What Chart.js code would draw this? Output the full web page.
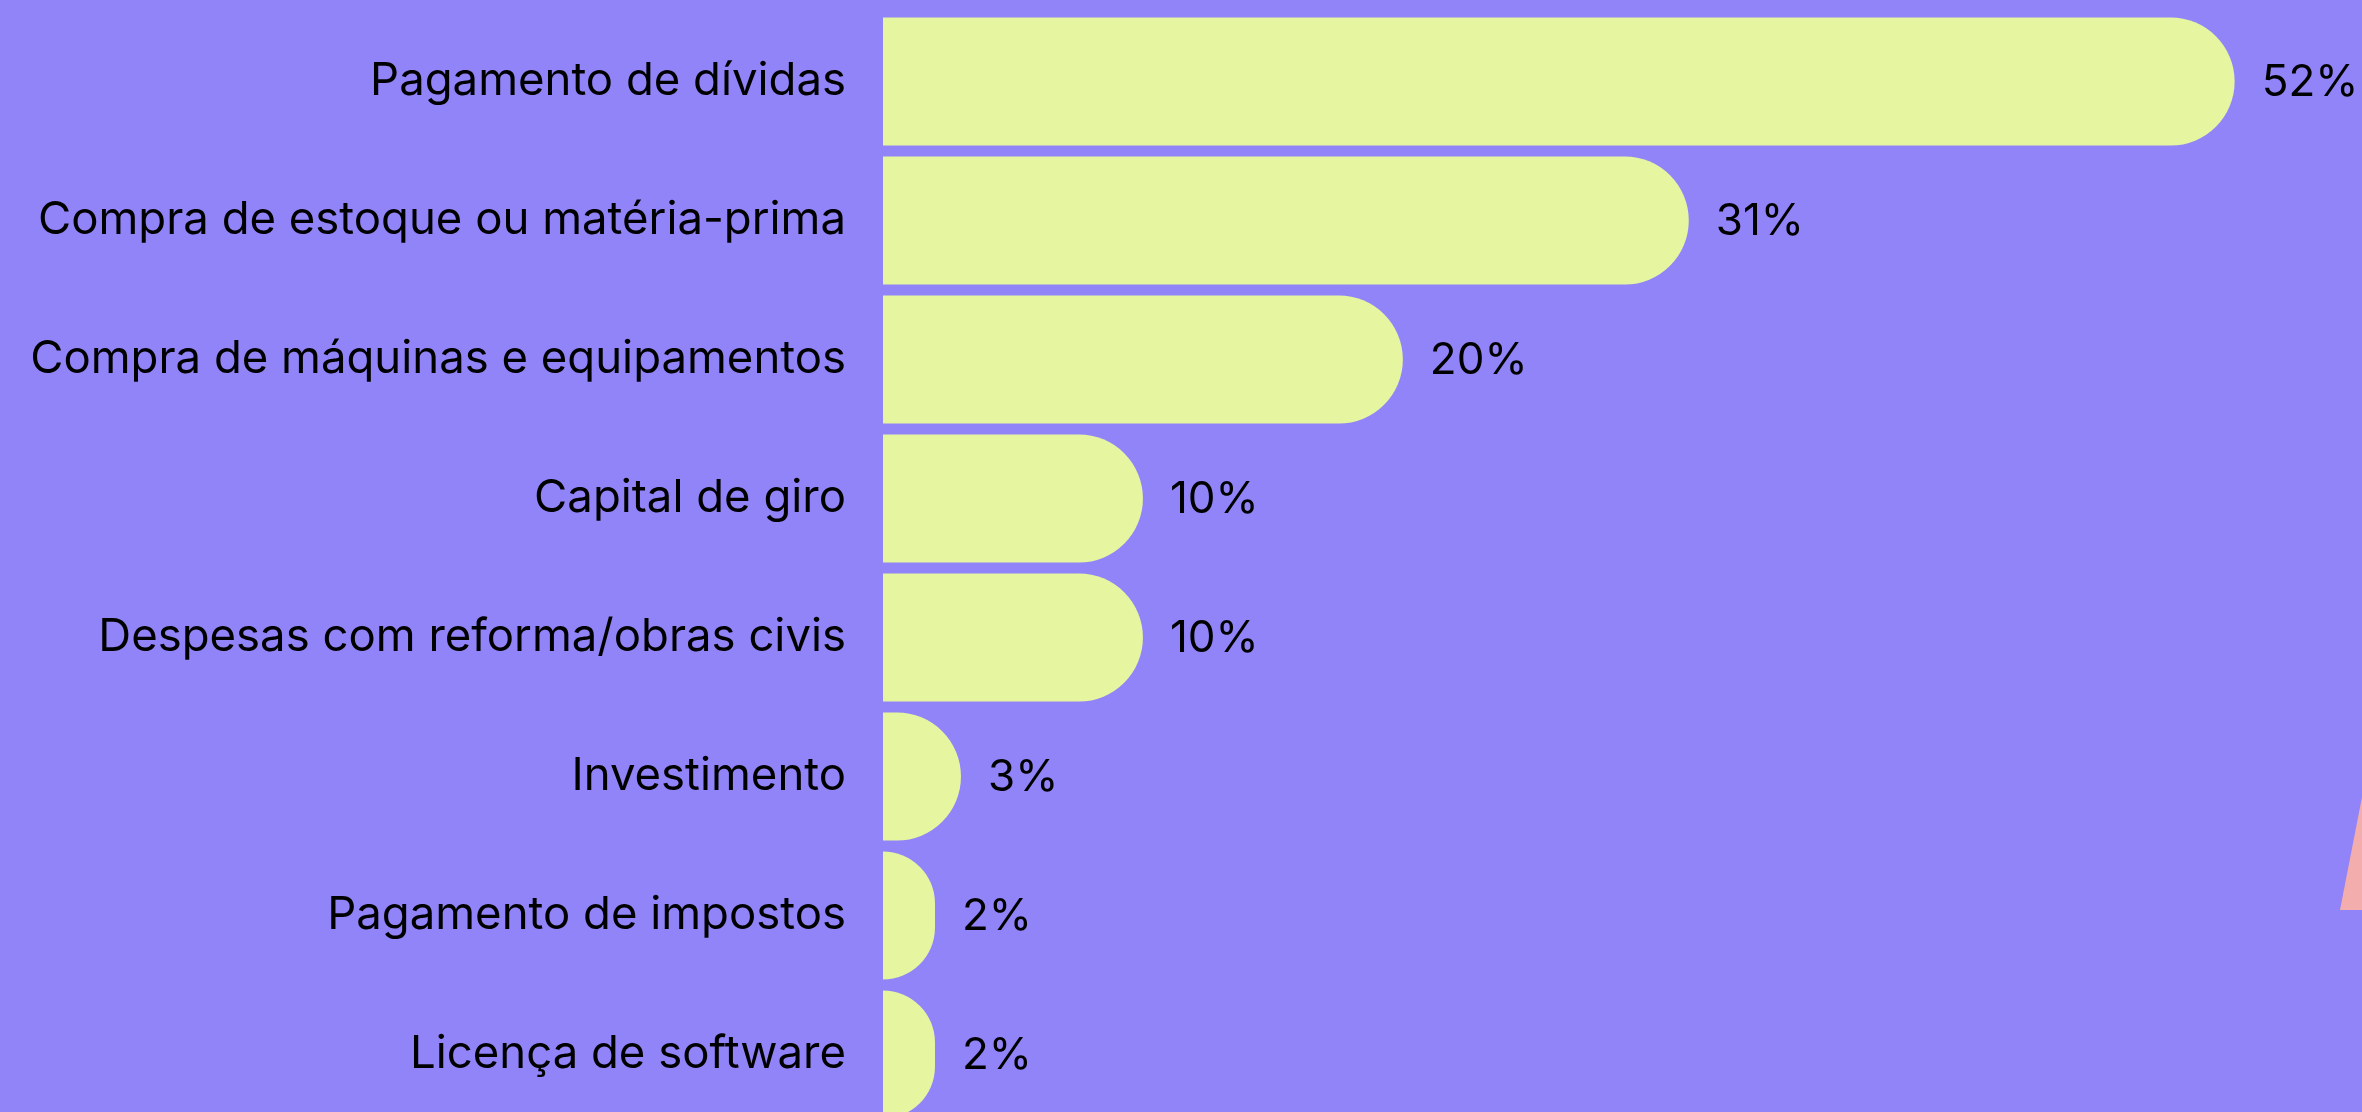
<!DOCTYPE html>
<html>
<head>
<meta charset="utf-8">
<script src="https://cdn.jsdelivr.net/npm/chart.js@4/dist/chart.umd.min.js"></script>
<style>
  html, body { margin: 0; padding: 0; width: 2362px; height: 1112px; overflow: hidden; background: #9184F8; }
  #wrap { position: relative; width: 2362px; height: 1124px; }
  canvas { display: block; }
  #deco { position: absolute; left: 2330px; top: 780px; width: 40px; height: 130px; background: #F2ADAC;
          clip-path: polygon(10px 130px, 32px 17px, 40px 0px, 40px 130px); }
</style>
</head>
<body>
<div id="wrap">
  <canvas id="c" width="2362" height="1124"></canvas>
  <div id="deco"></div>
</div>
<script>
const categories = [
  "Pagamento de dívidas",
  "Compra de estoque ou matéria-prima",
  "Compra de máquinas e equipamentos",
  "Capital de giro",
  "Despesas com reforma/obras civis",
  "Investimento",
  "Pagamento de impostos",
  "Licença de software"
];
const values = [52, 31, 20, 10, 10, 3, 2, 2];

const FONT = "Inter, 'Liberation Sans', sans-serif";
const BAR_COLOR = "#E6F6A0";

const roundedBars = {
  id: "roundedBars",
  beforeDatasetDraw(chart, args) {
    const ctx = chart.ctx;
    const meta = args.meta;
    ctx.save();
    ctx.fillStyle = BAR_COLOR;
    meta.data.forEach(el => {
      const p = el.getProps(["x", "y", "base", "height"], true);
      const left = Math.min(p.base, p.x), right = Math.max(p.base, p.x);
      const top = p.y - p.height / 2, bottom = p.y + p.height / 2;
      const w = right - left;
      const r = Math.min(p.height / 2, w);
      ctx.beginPath();
      ctx.moveTo(left, top);
      ctx.lineTo(right - r, top);
      ctx.arcTo(right, top, right, top + r, r);
      ctx.lineTo(right, bottom - r);
      ctx.arcTo(right, bottom, right - r, bottom, r);
      ctx.lineTo(left, bottom);
      ctx.closePath();
      ctx.fill();
    });
    ctx.restore();
    return false;
  }
};

const valueLabels = {
  id: "valueLabels",
  afterDatasetsDraw(chart) {
    const ctx = chart.ctx;
    const meta = chart.getDatasetMeta(0);
    ctx.save();
    ctx.font = "44px " + FONT;
    ctx.fillStyle = "#000000";
    ctx.textAlign = "left";
    ctx.textBaseline = "middle";
    meta.data.forEach((el, i) => {
      const v = chart.data.datasets[0].data[i];
      ctx.fillText(v + "%", el.x + 27, el.y + 1);
    });
    ctx.restore();
  }
};

new Chart(document.getElementById("c"), {
  type: "bar",
  data: {
    labels: categories,
    datasets: [{
      data: values,
      backgroundColor: BAR_COLOR,
      borderWidth: 0,
      categoryPercentage: 1,
      barPercentage: 0.921
    }]
  },
  options: {
    indexAxis: "y",
    responsive: false,
    animation: false,
    devicePixelRatio: 1,
    layout: { padding: { top: 12, left: 0, right: 0, bottom: 0 } },
    plugins: { legend: { display: false }, tooltip: { enabled: false } },
    scales: {
      x: { display: false, min: 0, max: 56.9 },
      y: {
        grid: { display: false, drawTicks: false },
        border: { display: false },
        ticks: {
          color: "#000000",
          padding: 37,
          font: { family: FONT, size: 45.5 }
        },
        afterFit(scale) {
          scale.width = 883;
          scale.paddingTop = 0;
          scale.paddingBottom = 0;
        }
      }
    }
  },
  plugins: [roundedBars, valueLabels]
});
</script>
</body>
</html>
